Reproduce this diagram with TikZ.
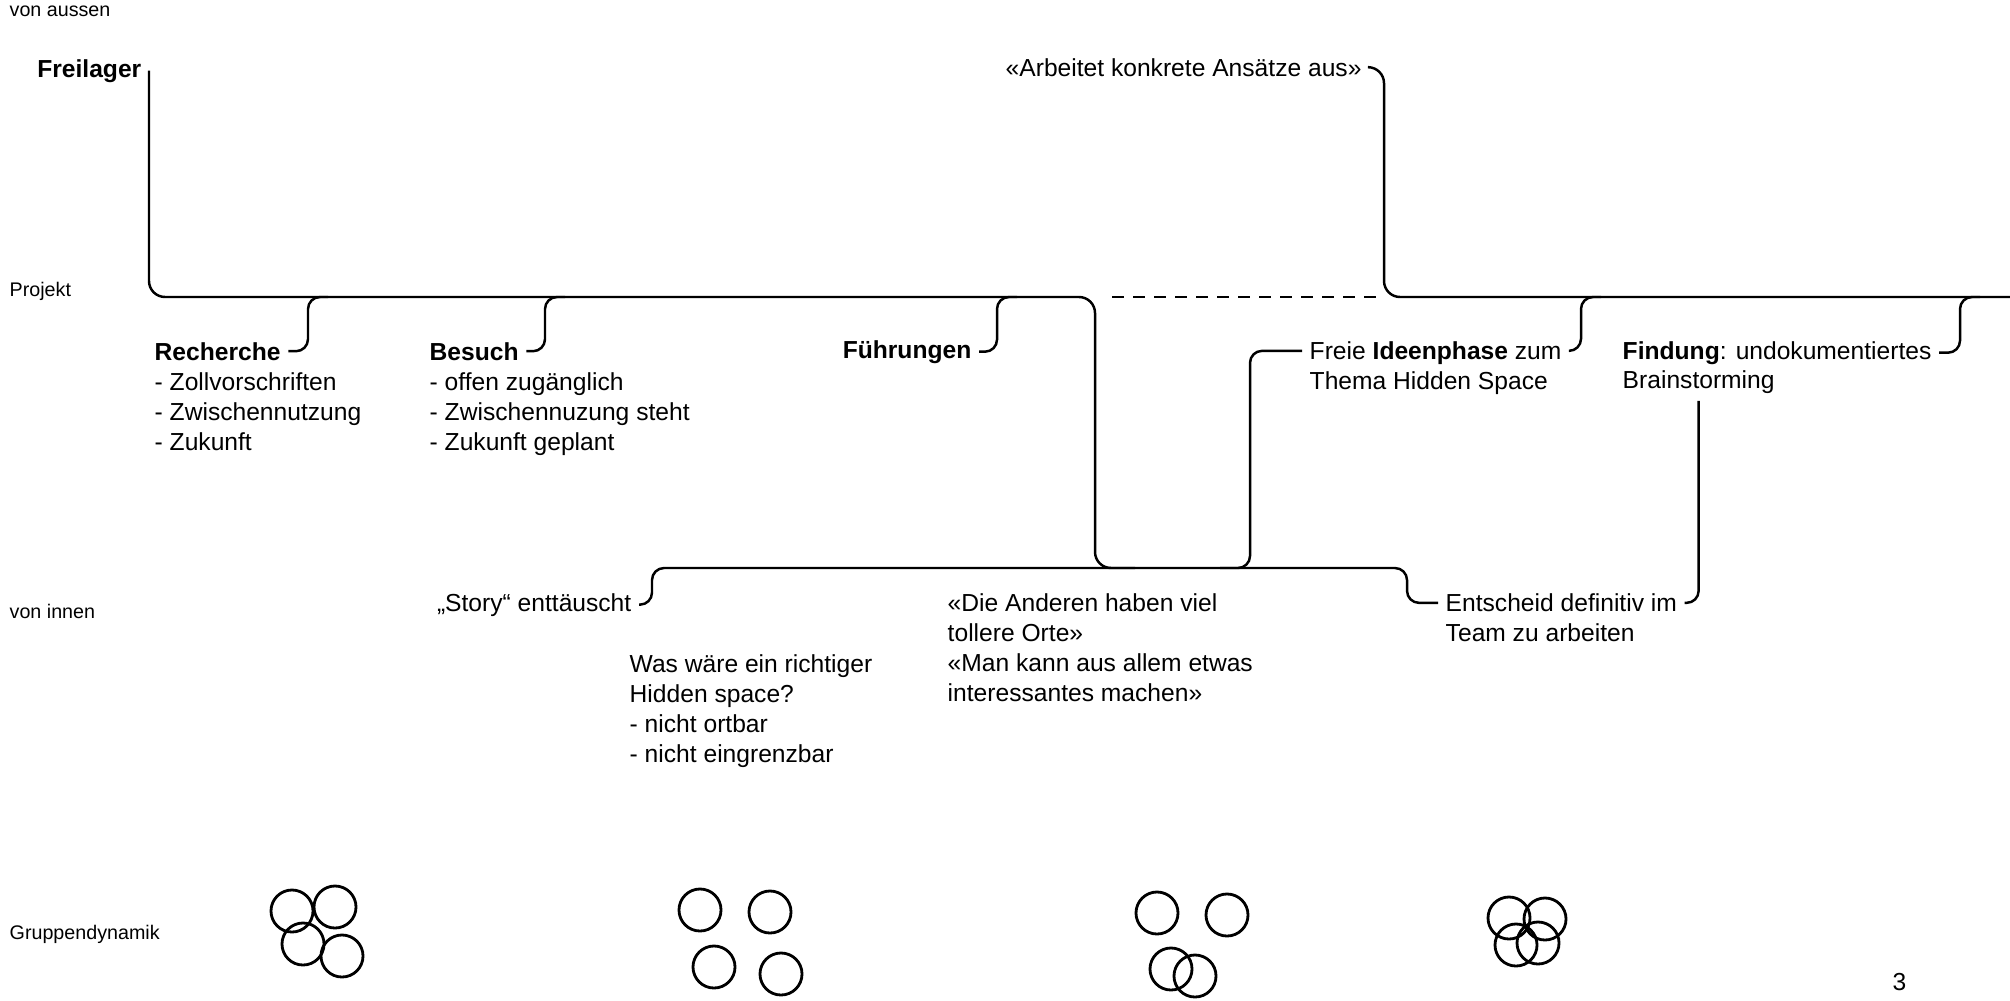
\documentclass[tikz,border=0pt]{standalone}
\usepackage{fontspec}
\setmainfont{Liberation Sans}
\usetikzlibrary{positioning}

\tikzset{
  txt/.style={font=\fontsize{7pt}{8.5pt}\selectfont, inner xsep=0.07cm, inner ysep=0pt, align=left},
  side/.style={font=\fontsize{5.6pt}{7pt}\selectfont, inner sep=0pt, anchor=base west},
  timeline/.style={line width=0.7pt, rounded corners=0.16cm},
  bracket/.style={line width=0.7pt, rounded corners=0.12cm},
  person/.style={line width=0.8pt},
}

\begin{document}
\begin{tikzpicture}[x=0.01cm, y=-0.01cm]
	\useasboundingbox (0,0) rectangle (2010,1000);

	% ebenen links
	\node[side] (aussen) at (9,17)  {von aussen};
	\node[side] (projekt) at (9,296) {Projekt};
	\node[side] (innen) at (9,618)  {von innen};
	\node[side] (gruppe) at (9,939) {Gruppendynamik};

	% texte
	\node[txt, anchor=base east] (freilager) at (149,77)  {\textbf{Freilager}};
	\node[txt, anchor=base west] (arbeitet)  at (998,76)  {«Arbeitet konkrete Ansätze aus»};
	\node[txt, anchor=base west] (recherche) at (147,360) {\textbf{Recherche}};
	\node[txt, below=0.11cm of recherche.south west, anchor=north west] (rlist) {- Zollvorschriften\\- Zwischennutzung\\- Zukunft};
	\node[txt, anchor=base west] (besuch)    at (422,360) {\textbf{Besuch}};
	\node[txt, below=0.11cm of besuch.south west, anchor=north west] (blist) {- offen zugänglich\\- Zwischennuzung steht\\- Zukunft geplant};
	\node[txt, anchor=base east] (fuehrungen) at (979,358) {\textbf{Führungen}};
	\node[txt, anchor=north west] (freie)    at (1302,341) {Freie \textbf{Ideenphase} zum\\Thema Hidden Space};
	\node[txt, anchor=base west] (findung)   at (1615,359) {\textbf{Findung}: undokumentiertes};
	\node[txt, anchor=base west] (brain)     at (1615,388) {Brainstorming};
	\node[txt, anchor=base east] (story)     at (639,611)  {„Story“ enttäuscht};
	\node[txt, anchor=north west] (wasware)  at (622,654)  {Was wäre ein richtiger\\Hidden space?\\- nicht ortbar\\- nicht eingrenzbar};
	\node[txt, anchor=north west] (anderen)  at (940,593)  {«Die Anderen haben viel\\tollere Orte»\\«Man kann aus allem etwas\\interessantes machen»};
	\node[txt, anchor=north west] (entscheid) at (1438,593) {Entscheid definitiv im\\Team zu arbeiten};
	\node[txt, anchor=base west] (seite)     at (1885,990) {3};

	% knickpunkte
	\coordinate (turnA)  at (1095,297);
	\coordinate (turnB)  at (1095,568);
	\coordinate (rechJ)  at (308,297);
	\coordinate (besJ)   at (545,297);
	\coordinate (fuehrJ) at (997,297);
	\coordinate (dashL)  at (1112,297);
	\coordinate (dashR)  at (1378,297);
	\coordinate (arbJ)   at (1384,297);
	\coordinate (rEnd)   at (2010,297);
	\coordinate (ideeR)  at (1581,297);
	\coordinate (findJ)  at (1960,297);
	\coordinate (ideeL)  at (1250,568);
	\coordinate (lowL)   at (652,568);
	\coordinate (lowR)   at (1407,568);

	% linien
	\draw[timeline] (freilager.east) |- (turnA) -- (turnB) -- ++(40,0);
	\draw[line width=0.7pt, dash pattern=on 0.12cm off 0.09cm] (dashL) -- (dashR);
	\draw[timeline] (arbeitet.east) -| (arbJ) -- (rEnd);
	\draw[bracket] (recherche.east) -| (rechJ) -- ++(20,0);
	\draw[bracket] (besuch.east) -| (besJ) -- ++(20,0);
	\draw[bracket] (fuehrungen.east) -| (fuehrJ) -- ++(20,0);
	\draw[bracket] ([yshift=-2.8pt]freie.north east) -| (ideeR) -- ++(20,0);
	\draw[bracket] (findung.east) -| (findJ) -- ++(20,0);
	\draw[bracket] ([yshift=-2.8pt]freie.north west) -| (ideeL) -- ++(-30,0);
	\draw[bracket] (story.east) -| (lowL) -- (lowR) |- ([yshift=-2.8pt]entscheid.north west);
	\draw[bracket] ([yshift=-2pt]brain.south) |- ([yshift=-2.8pt]entscheid.north east);

	% gruppendynamik
	\draw[person] (292,911)  circle[radius=0.21cm];
	\draw[person] (335,907)  circle[radius=0.21cm];
	\draw[person] (303,944)  circle[radius=0.21cm];
	\draw[person] (342,956)  circle[radius=0.21cm];
	\draw[person] (700,910)  circle[radius=0.21cm];
	\draw[person] (770,912)  circle[radius=0.21cm];
	\draw[person] (714,967)  circle[radius=0.21cm];
	\draw[person] (781,974)  circle[radius=0.21cm];
	\draw[person] (1157,913) circle[radius=0.21cm];
	\draw[person] (1227,915) circle[radius=0.21cm];
	\draw[person] (1171,969) circle[radius=0.21cm];
	\draw[person] (1195,976) circle[radius=0.21cm];
	\draw[person] (1509,918) circle[radius=0.21cm];
	\draw[person] (1545,919) circle[radius=0.21cm];
	\draw[person] (1516,945) circle[radius=0.21cm];
	\draw[person] (1538,943) circle[radius=0.21cm];
\end{tikzpicture}
\end{document}
